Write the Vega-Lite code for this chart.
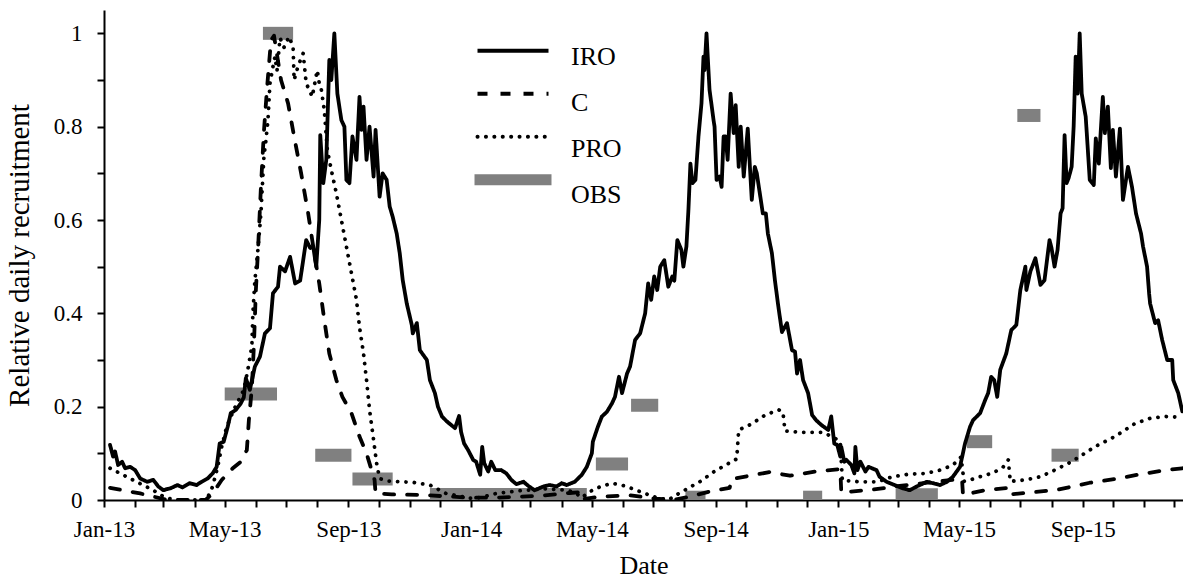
{
  "$schema": "https://vega.github.io/schema/vega-lite/v6.json",
  "width": 1079,
  "height": 490,
  "autosize": {"type": "none"},
  "padding": {"left": 104, "top": 10, "right": 0, "bottom": 78},
  "background": "white",
  "config": {
    "view": {"stroke": null},
    "font": "Liberation Serif",
    "axis": {
      "grid": false,
      "domainColor": "black",
      "domainWidth": 2,
      "tickColor": "black",
      "tickWidth": 2,
      "tickSize": 7,
      "labelColor": "black",
      "labelFont": "Liberation Serif",
      "labelFontSize": 23,
      "titleFont": "Liberation Serif",
      "titleColor": "black",
      "titleFontWeight": "normal",
      "labelOverlap": false,
      "labelBound": false,
      "zindex": 1
    }
  },
  "data": {
    "values": [
      {"series": "OBS", "start": "2013-05-01", "end": "2013-06-22", "value": 0.227},
      {"series": "OBS", "start": "2013-06-08", "end": "2013-07-08", "value": 1.0},
      {"series": "OBS", "start": "2013-07-30", "end": "2013-09-04", "value": 0.096},
      {"series": "OBS", "start": "2013-09-05", "end": "2013-10-15", "value": 0.045},
      {"series": "OBS", "start": "2013-11-21", "end": "2014-04-26", "value": 0.012},
      {"series": "OBS", "start": "2014-05-05", "end": "2014-06-06", "value": 0.077},
      {"series": "OBS", "start": "2014-06-09", "end": "2014-07-06", "value": 0.203},
      {"series": "OBS", "start": "2014-08-02", "end": "2014-08-22", "value": 0.006},
      {"series": "OBS", "start": "2014-11-27", "end": "2014-12-16", "value": 0.006},
      {"series": "OBS", "start": "2015-02-27", "end": "2015-04-10", "value": 0.011},
      {"series": "OBS", "start": "2015-05-09", "end": "2015-06-03", "value": 0.125},
      {"series": "OBS", "start": "2015-06-28", "end": "2015-07-21", "value": 0.824},
      {"series": "OBS", "start": "2015-08-01", "end": "2015-08-28", "value": 0.096},

      {"series": "IRO", "date": "2013-01-07", "value": 0.118},
      {"series": "IRO", "date": "2013-01-10", "value": 0.093},
      {"series": "IRO", "date": "2013-01-12", "value": 0.104},
      {"series": "IRO", "date": "2013-01-15", "value": 0.075},
      {"series": "IRO", "date": "2013-01-19", "value": 0.082},
      {"series": "IRO", "date": "2013-01-22", "value": 0.068},
      {"series": "IRO", "date": "2013-01-27", "value": 0.071},
      {"series": "IRO", "date": "2013-02-01", "value": 0.064},
      {"series": "IRO", "date": "2013-02-06", "value": 0.046},
      {"series": "IRO", "date": "2013-02-13", "value": 0.039},
      {"series": "IRO", "date": "2013-02-19", "value": 0.043},
      {"series": "IRO", "date": "2013-02-24", "value": 0.029},
      {"series": "IRO", "date": "2013-03-01", "value": 0.021},
      {"series": "IRO", "date": "2013-03-08", "value": 0.025},
      {"series": "IRO", "date": "2013-03-15", "value": 0.032},
      {"series": "IRO", "date": "2013-03-20", "value": 0.027},
      {"series": "IRO", "date": "2013-03-27", "value": 0.036},
      {"series": "IRO", "date": "2013-04-03", "value": 0.032},
      {"series": "IRO", "date": "2013-04-08", "value": 0.039},
      {"series": "IRO", "date": "2013-04-14", "value": 0.046},
      {"series": "IRO", "date": "2013-04-19", "value": 0.057},
      {"series": "IRO", "date": "2013-04-23", "value": 0.071},
      {"series": "IRO", "date": "2013-04-26", "value": 0.121},
      {"series": "IRO", "date": "2013-04-30", "value": 0.125},
      {"series": "IRO", "date": "2013-05-04", "value": 0.157},
      {"series": "IRO", "date": "2013-05-07", "value": 0.186},
      {"series": "IRO", "date": "2013-05-12", "value": 0.193},
      {"series": "IRO", "date": "2013-05-17", "value": 0.207},
      {"series": "IRO", "date": "2013-05-20", "value": 0.22},
      {"series": "IRO", "date": "2013-05-22", "value": 0.261},
      {"series": "IRO", "date": "2013-05-26", "value": 0.236},
      {"series": "IRO", "date": "2013-05-31", "value": 0.286},
      {"series": "IRO", "date": "2013-06-05", "value": 0.307},
      {"series": "IRO", "date": "2013-06-10", "value": 0.357},
      {"series": "IRO", "date": "2013-06-15", "value": 0.368},
      {"series": "IRO", "date": "2013-06-18", "value": 0.443},
      {"series": "IRO", "date": "2013-06-23", "value": 0.457},
      {"series": "IRO", "date": "2013-06-25", "value": 0.5},
      {"series": "IRO", "date": "2013-06-30", "value": 0.49},
      {"series": "IRO", "date": "2013-07-05", "value": 0.521},
      {"series": "IRO", "date": "2013-07-10", "value": 0.464},
      {"series": "IRO", "date": "2013-07-15", "value": 0.47},
      {"series": "IRO", "date": "2013-07-21", "value": 0.557},
      {"series": "IRO", "date": "2013-07-25", "value": 0.54},
      {"series": "IRO", "date": "2013-07-28", "value": 0.543},
      {"series": "IRO", "date": "2013-07-31", "value": 0.5},
      {"series": "IRO", "date": "2013-08-03", "value": 0.6},
      {"series": "IRO", "date": "2013-08-04", "value": 0.782},
      {"series": "IRO", "date": "2013-08-07", "value": 0.679},
      {"series": "IRO", "date": "2013-08-10", "value": 0.729},
      {"series": "IRO", "date": "2013-08-13", "value": 0.943},
      {"series": "IRO", "date": "2013-08-15", "value": 0.9},
      {"series": "IRO", "date": "2013-08-18", "value": 1.0},
      {"series": "IRO", "date": "2013-08-21", "value": 0.871},
      {"series": "IRO", "date": "2013-08-25", "value": 0.814},
      {"series": "IRO", "date": "2013-08-28", "value": 0.8},
      {"series": "IRO", "date": "2013-08-30", "value": 0.686},
      {"series": "IRO", "date": "2013-09-02", "value": 0.679},
      {"series": "IRO", "date": "2013-09-05", "value": 0.779},
      {"series": "IRO", "date": "2013-09-09", "value": 0.729},
      {"series": "IRO", "date": "2013-09-12", "value": 0.864},
      {"series": "IRO", "date": "2013-09-14", "value": 0.793},
      {"series": "IRO", "date": "2013-09-16", "value": 0.843},
      {"series": "IRO", "date": "2013-09-19", "value": 0.729},
      {"series": "IRO", "date": "2013-09-22", "value": 0.8},
      {"series": "IRO", "date": "2013-09-26", "value": 0.693},
      {"series": "IRO", "date": "2013-09-28", "value": 0.793},
      {"series": "IRO", "date": "2013-10-02", "value": 0.65},
      {"series": "IRO", "date": "2013-10-05", "value": 0.7},
      {"series": "IRO", "date": "2013-10-09", "value": 0.686},
      {"series": "IRO", "date": "2013-10-12", "value": 0.629},
      {"series": "IRO", "date": "2013-10-15", "value": 0.607},
      {"series": "IRO", "date": "2013-10-19", "value": 0.571},
      {"series": "IRO", "date": "2013-10-22", "value": 0.529},
      {"series": "IRO", "date": "2013-10-25", "value": 0.471},
      {"series": "IRO", "date": "2013-10-29", "value": 0.421},
      {"series": "IRO", "date": "2013-11-03", "value": 0.375},
      {"series": "IRO", "date": "2013-11-04", "value": 0.357},
      {"series": "IRO", "date": "2013-11-08", "value": 0.379},
      {"series": "IRO", "date": "2013-11-11", "value": 0.321},
      {"series": "IRO", "date": "2013-11-18", "value": 0.3},
      {"series": "IRO", "date": "2013-11-21", "value": 0.257},
      {"series": "IRO", "date": "2013-11-26", "value": 0.229},
      {"series": "IRO", "date": "2013-11-29", "value": 0.2},
      {"series": "IRO", "date": "2013-12-03", "value": 0.179},
      {"series": "IRO", "date": "2013-12-08", "value": 0.168},
      {"series": "IRO", "date": "2013-12-16", "value": 0.154},
      {"series": "IRO", "date": "2013-12-20", "value": 0.18},
      {"series": "IRO", "date": "2013-12-22", "value": 0.146},
      {"series": "IRO", "date": "2013-12-25", "value": 0.121},
      {"series": "IRO", "date": "2013-12-29", "value": 0.107},
      {"series": "IRO", "date": "2014-01-03", "value": 0.086},
      {"series": "IRO", "date": "2014-01-06", "value": 0.082},
      {"series": "IRO", "date": "2014-01-10", "value": 0.054},
      {"series": "IRO", "date": "2014-01-12", "value": 0.114},
      {"series": "IRO", "date": "2014-01-14", "value": 0.079},
      {"series": "IRO", "date": "2014-01-18", "value": 0.061},
      {"series": "IRO", "date": "2014-01-21", "value": 0.082},
      {"series": "IRO", "date": "2014-01-25", "value": 0.064},
      {"series": "IRO", "date": "2014-01-31", "value": 0.064},
      {"series": "IRO", "date": "2014-02-05", "value": 0.057},
      {"series": "IRO", "date": "2014-02-10", "value": 0.043},
      {"series": "IRO", "date": "2014-02-15", "value": 0.034},
      {"series": "IRO", "date": "2014-02-22", "value": 0.039},
      {"series": "IRO", "date": "2014-02-27", "value": 0.03},
      {"series": "IRO", "date": "2014-03-05", "value": 0.021},
      {"series": "IRO", "date": "2014-03-14", "value": 0.029},
      {"series": "IRO", "date": "2014-03-20", "value": 0.032},
      {"series": "IRO", "date": "2014-03-27", "value": 0.029},
      {"series": "IRO", "date": "2014-04-01", "value": 0.036},
      {"series": "IRO", "date": "2014-04-06", "value": 0.032},
      {"series": "IRO", "date": "2014-04-14", "value": 0.039},
      {"series": "IRO", "date": "2014-04-21", "value": 0.054},
      {"series": "IRO", "date": "2014-04-26", "value": 0.071},
      {"series": "IRO", "date": "2014-05-01", "value": 0.1},
      {"series": "IRO", "date": "2014-05-02", "value": 0.125},
      {"series": "IRO", "date": "2014-05-07", "value": 0.157},
      {"series": "IRO", "date": "2014-05-11", "value": 0.179},
      {"series": "IRO", "date": "2014-05-16", "value": 0.189},
      {"series": "IRO", "date": "2014-05-21", "value": 0.207},
      {"series": "IRO", "date": "2014-05-24", "value": 0.221},
      {"series": "IRO", "date": "2014-05-28", "value": 0.264},
      {"series": "IRO", "date": "2014-05-31", "value": 0.229},
      {"series": "IRO", "date": "2014-06-05", "value": 0.271},
      {"series": "IRO", "date": "2014-06-08", "value": 0.286},
      {"series": "IRO", "date": "2014-06-13", "value": 0.343},
      {"series": "IRO", "date": "2014-06-18", "value": 0.357},
      {"series": "IRO", "date": "2014-06-23", "value": 0.4},
      {"series": "IRO", "date": "2014-06-26", "value": 0.464},
      {"series": "IRO", "date": "2014-06-29", "value": 0.429},
      {"series": "IRO", "date": "2014-07-02", "value": 0.479},
      {"series": "IRO", "date": "2014-07-05", "value": 0.45},
      {"series": "IRO", "date": "2014-07-08", "value": 0.5},
      {"series": "IRO", "date": "2014-07-12", "value": 0.514},
      {"series": "IRO", "date": "2014-07-16", "value": 0.457},
      {"series": "IRO", "date": "2014-07-20", "value": 0.479},
      {"series": "IRO", "date": "2014-07-22", "value": 0.47},
      {"series": "IRO", "date": "2014-07-25", "value": 0.557},
      {"series": "IRO", "date": "2014-07-29", "value": 0.536},
      {"series": "IRO", "date": "2014-07-31", "value": 0.5},
      {"series": "IRO", "date": "2014-08-03", "value": 0.543},
      {"series": "IRO", "date": "2014-08-05", "value": 0.621},
      {"series": "IRO", "date": "2014-08-07", "value": 0.721},
      {"series": "IRO", "date": "2014-08-09", "value": 0.679},
      {"series": "IRO", "date": "2014-08-12", "value": 0.686},
      {"series": "IRO", "date": "2014-08-15", "value": 0.779},
      {"series": "IRO", "date": "2014-08-18", "value": 0.85},
      {"series": "IRO", "date": "2014-08-20", "value": 0.95},
      {"series": "IRO", "date": "2014-08-21", "value": 0.921},
      {"series": "IRO", "date": "2014-08-23", "value": 1.0},
      {"series": "IRO", "date": "2014-08-26", "value": 0.879},
      {"series": "IRO", "date": "2014-08-30", "value": 0.814},
      {"series": "IRO", "date": "2014-08-31", "value": 0.8},
      {"series": "IRO", "date": "2014-09-02", "value": 0.686},
      {"series": "IRO", "date": "2014-09-05", "value": 0.693},
      {"series": "IRO", "date": "2014-09-07", "value": 0.671},
      {"series": "IRO", "date": "2014-09-09", "value": 0.779},
      {"series": "IRO", "date": "2014-09-11", "value": 0.779},
      {"series": "IRO", "date": "2014-09-13", "value": 0.729},
      {"series": "IRO", "date": "2014-09-16", "value": 0.871},
      {"series": "IRO", "date": "2014-09-19", "value": 0.786},
      {"series": "IRO", "date": "2014-09-21", "value": 0.846},
      {"series": "IRO", "date": "2014-09-24", "value": 0.714},
      {"series": "IRO", "date": "2014-09-26", "value": 0.8},
      {"series": "IRO", "date": "2014-09-29", "value": 0.693},
      {"series": "IRO", "date": "2014-10-03", "value": 0.796},
      {"series": "IRO", "date": "2014-10-07", "value": 0.643},
      {"series": "IRO", "date": "2014-10-10", "value": 0.714},
      {"series": "IRO", "date": "2014-10-12", "value": 0.7},
      {"series": "IRO", "date": "2014-10-15", "value": 0.657},
      {"series": "IRO", "date": "2014-10-18", "value": 0.614},
      {"series": "IRO", "date": "2014-10-21", "value": 0.614},
      {"series": "IRO", "date": "2014-10-23", "value": 0.571},
      {"series": "IRO", "date": "2014-10-27", "value": 0.529},
      {"series": "IRO", "date": "2014-10-30", "value": 0.471},
      {"series": "IRO", "date": "2014-11-02", "value": 0.421},
      {"series": "IRO", "date": "2014-11-06", "value": 0.36},
      {"series": "IRO", "date": "2014-11-11", "value": 0.379},
      {"series": "IRO", "date": "2014-11-16", "value": 0.321},
      {"series": "IRO", "date": "2014-11-19", "value": 0.318},
      {"series": "IRO", "date": "2014-11-21", "value": 0.271},
      {"series": "IRO", "date": "2014-11-24", "value": 0.3},
      {"series": "IRO", "date": "2014-11-27", "value": 0.257},
      {"series": "IRO", "date": "2014-12-02", "value": 0.229},
      {"series": "IRO", "date": "2014-12-06", "value": 0.182},
      {"series": "IRO", "date": "2014-12-10", "value": 0.171},
      {"series": "IRO", "date": "2014-12-15", "value": 0.161},
      {"series": "IRO", "date": "2014-12-22", "value": 0.15},
      {"series": "IRO", "date": "2014-12-25", "value": 0.179},
      {"series": "IRO", "date": "2014-12-28", "value": 0.121},
      {"series": "IRO", "date": "2014-12-31", "value": 0.118},
      {"series": "IRO", "date": "2015-01-03", "value": 0.093},
      {"series": "IRO", "date": "2015-01-04", "value": 0.114},
      {"series": "IRO", "date": "2015-01-07", "value": 0.082},
      {"series": "IRO", "date": "2015-01-09", "value": 0.086},
      {"series": "IRO", "date": "2015-01-14", "value": 0.075},
      {"series": "IRO", "date": "2015-01-17", "value": 0.057},
      {"series": "IRO", "date": "2015-01-18", "value": 0.114},
      {"series": "IRO", "date": "2015-01-20", "value": 0.064},
      {"series": "IRO", "date": "2015-01-23", "value": 0.082},
      {"series": "IRO", "date": "2015-01-28", "value": 0.061},
      {"series": "IRO", "date": "2015-01-31", "value": 0.071},
      {"series": "IRO", "date": "2015-02-08", "value": 0.064},
      {"series": "IRO", "date": "2015-02-11", "value": 0.05},
      {"series": "IRO", "date": "2015-02-18", "value": 0.039},
      {"series": "IRO", "date": "2015-02-26", "value": 0.032},
      {"series": "IRO", "date": "2015-03-06", "value": 0.025},
      {"series": "IRO", "date": "2015-03-13", "value": 0.021},
      {"series": "IRO", "date": "2015-03-20", "value": 0.029},
      {"series": "IRO", "date": "2015-03-30", "value": 0.039},
      {"series": "IRO", "date": "2015-04-05", "value": 0.036},
      {"series": "IRO", "date": "2015-04-12", "value": 0.032},
      {"series": "IRO", "date": "2015-04-19", "value": 0.039},
      {"series": "IRO", "date": "2015-04-25", "value": 0.05},
      {"series": "IRO", "date": "2015-05-02", "value": 0.071},
      {"series": "IRO", "date": "2015-05-07", "value": 0.121},
      {"series": "IRO", "date": "2015-05-12", "value": 0.157},
      {"series": "IRO", "date": "2015-05-15", "value": 0.171},
      {"series": "IRO", "date": "2015-05-22", "value": 0.186},
      {"series": "IRO", "date": "2015-05-27", "value": 0.214},
      {"series": "IRO", "date": "2015-05-30", "value": 0.229},
      {"series": "IRO", "date": "2015-06-02", "value": 0.264},
      {"series": "IRO", "date": "2015-06-05", "value": 0.257},
      {"series": "IRO", "date": "2015-06-08", "value": 0.221},
      {"series": "IRO", "date": "2015-06-11", "value": 0.279},
      {"series": "IRO", "date": "2015-06-17", "value": 0.314},
      {"series": "IRO", "date": "2015-06-22", "value": 0.364},
      {"series": "IRO", "date": "2015-06-27", "value": 0.375},
      {"series": "IRO", "date": "2015-07-01", "value": 0.45},
      {"series": "IRO", "date": "2015-07-06", "value": 0.5},
      {"series": "IRO", "date": "2015-07-07", "value": 0.45},
      {"series": "IRO", "date": "2015-07-11", "value": 0.49},
      {"series": "IRO", "date": "2015-07-16", "value": 0.518},
      {"series": "IRO", "date": "2015-07-21", "value": 0.461},
      {"series": "IRO", "date": "2015-07-25", "value": 0.471},
      {"series": "IRO", "date": "2015-07-30", "value": 0.557},
      {"series": "IRO", "date": "2015-08-01", "value": 0.54},
      {"series": "IRO", "date": "2015-08-04", "value": 0.5},
      {"series": "IRO", "date": "2015-08-07", "value": 0.536},
      {"series": "IRO", "date": "2015-08-10", "value": 0.614},
      {"series": "IRO", "date": "2015-08-12", "value": 0.625},
      {"series": "IRO", "date": "2015-08-14", "value": 0.782},
      {"series": "IRO", "date": "2015-08-16", "value": 0.679},
      {"series": "IRO", "date": "2015-08-18", "value": 0.69},
      {"series": "IRO", "date": "2015-08-21", "value": 0.714},
      {"series": "IRO", "date": "2015-08-23", "value": 0.8},
      {"series": "IRO", "date": "2015-08-25", "value": 0.95},
      {"series": "IRO", "date": "2015-08-27", "value": 0.871},
      {"series": "IRO", "date": "2015-08-29", "value": 1.0},
      {"series": "IRO", "date": "2015-08-31", "value": 0.871},
      {"series": "IRO", "date": "2015-09-04", "value": 0.821},
      {"series": "IRO", "date": "2015-09-08", "value": 0.686},
      {"series": "IRO", "date": "2015-09-12", "value": 0.675},
      {"series": "IRO", "date": "2015-09-14", "value": 0.775},
      {"series": "IRO", "date": "2015-09-17", "value": 0.721},
      {"series": "IRO", "date": "2015-09-21", "value": 0.864},
      {"series": "IRO", "date": "2015-09-23", "value": 0.786},
      {"series": "IRO", "date": "2015-09-26", "value": 0.843},
      {"series": "IRO", "date": "2015-09-29", "value": 0.711},
      {"series": "IRO", "date": "2015-10-01", "value": 0.793},
      {"series": "IRO", "date": "2015-10-04", "value": 0.693},
      {"series": "IRO", "date": "2015-10-08", "value": 0.796},
      {"series": "IRO", "date": "2015-10-11", "value": 0.643},
      {"series": "IRO", "date": "2015-10-16", "value": 0.714},
      {"series": "IRO", "date": "2015-10-20", "value": 0.671},
      {"series": "IRO", "date": "2015-10-24", "value": 0.614},
      {"series": "IRO", "date": "2015-10-29", "value": 0.571},
      {"series": "IRO", "date": "2015-10-31", "value": 0.543},
      {"series": "IRO", "date": "2015-11-04", "value": 0.5},
      {"series": "IRO", "date": "2015-11-06", "value": 0.443},
      {"series": "IRO", "date": "2015-11-07", "value": 0.421},
      {"series": "IRO", "date": "2015-11-12", "value": 0.379},
      {"series": "IRO", "date": "2015-11-15", "value": 0.385},
      {"series": "IRO", "date": "2015-11-19", "value": 0.343},
      {"series": "IRO", "date": "2015-11-24", "value": 0.3},
      {"series": "IRO", "date": "2015-11-29", "value": 0.3},
      {"series": "IRO", "date": "2015-11-30", "value": 0.257},
      {"series": "IRO", "date": "2015-12-05", "value": 0.229},
      {"series": "IRO", "date": "2015-12-09", "value": 0.19},

      {"series": "C", "date": "2013-01-07", "value": 0.026},
      {"series": "C", "date": "2013-02-06", "value": 0.014},
      {"series": "C", "date": "2013-02-18", "value": 0.008},
      {"series": "C", "date": "2013-03-03", "value": 0.001},
      {"series": "C", "date": "2013-03-17", "value": 0},
      {"series": "C", "date": "2013-04-12", "value": 0},
      {"series": "C", "date": "2013-04-19", "value": 0.014},
      {"series": "C", "date": "2013-04-28", "value": 0.043},
      {"series": "C", "date": "2013-05-09", "value": 0.068},
      {"series": "C", "date": "2013-05-17", "value": 0.082},
      {"series": "C", "date": "2013-05-23", "value": 0.107},
      {"series": "C", "date": "2013-05-25", "value": 0.17},
      {"series": "C", "date": "2013-05-28", "value": 0.24},
      {"series": "C", "date": "2013-05-30", "value": 0.33},
      {"series": "C", "date": "2013-06-01", "value": 0.45},
      {"series": "C", "date": "2013-06-03", "value": 0.53},
      {"series": "C", "date": "2013-06-06", "value": 0.67},
      {"series": "C", "date": "2013-06-09", "value": 0.79},
      {"series": "C", "date": "2013-06-12", "value": 0.88},
      {"series": "C", "date": "2013-06-16", "value": 0.985},
      {"series": "C", "date": "2013-06-19", "value": 0.995},
      {"series": "C", "date": "2013-06-26", "value": 0.9},
      {"series": "C", "date": "2013-07-03", "value": 0.85},
      {"series": "C", "date": "2013-07-09", "value": 0.779},
      {"series": "C", "date": "2013-07-16", "value": 0.7},
      {"series": "C", "date": "2013-07-23", "value": 0.614},
      {"series": "C", "date": "2013-07-29", "value": 0.529},
      {"series": "C", "date": "2013-08-03", "value": 0.464},
      {"series": "C", "date": "2013-08-08", "value": 0.386},
      {"series": "C", "date": "2013-08-13", "value": 0.314},
      {"series": "C", "date": "2013-08-20", "value": 0.257},
      {"series": "C", "date": "2013-08-26", "value": 0.221},
      {"series": "C", "date": "2013-09-04", "value": 0.186},
      {"series": "C", "date": "2013-09-12", "value": 0.136},
      {"series": "C", "date": "2013-09-19", "value": 0.1},
      {"series": "C", "date": "2013-09-24", "value": 0.064},
      {"series": "C", "date": "2013-09-27", "value": 0.043},
      {"series": "C", "date": "2013-09-28", "value": 0.014},
      {"series": "C", "date": "2013-10-14", "value": 0.012},
      {"series": "C", "date": "2013-11-11", "value": 0.011},
      {"series": "C", "date": "2013-12-06", "value": 0.008},
      {"series": "C", "date": "2013-12-31", "value": 0.005},
      {"series": "C", "date": "2014-01-25", "value": 0.005},
      {"series": "C", "date": "2014-02-19", "value": 0.007},
      {"series": "C", "date": "2014-03-15", "value": 0.01},
      {"series": "C", "date": "2014-04-09", "value": 0.015},
      {"series": "C", "date": "2014-04-21", "value": 0.017},
      {"series": "C", "date": "2014-04-22", "value": 0.002},
      {"series": "C", "date": "2014-05-09", "value": 0.007},
      {"series": "C", "date": "2014-06-08", "value": 0.01},
      {"series": "C", "date": "2014-07-03", "value": 0.003},
      {"series": "C", "date": "2014-07-20", "value": 0},
      {"series": "C", "date": "2014-08-04", "value": 0.006},
      {"series": "C", "date": "2014-08-26", "value": 0.018},
      {"series": "C", "date": "2014-09-15", "value": 0.026},
      {"series": "C", "date": "2014-09-17", "value": 0.045},
      {"series": "C", "date": "2014-10-05", "value": 0.052},
      {"series": "C", "date": "2014-10-25", "value": 0.06},
      {"series": "C", "date": "2014-11-14", "value": 0.052},
      {"series": "C", "date": "2014-12-09", "value": 0.061},
      {"series": "C", "date": "2015-01-03", "value": 0.066},
      {"series": "C", "date": "2015-01-04", "value": 0.016},
      {"series": "C", "date": "2015-02-03", "value": 0.022},
      {"series": "C", "date": "2015-03-03", "value": 0.03},
      {"series": "C", "date": "2015-04-02", "value": 0.038},
      {"series": "C", "date": "2015-05-04", "value": 0.045},
      {"series": "C", "date": "2015-05-05", "value": 0.011},
      {"series": "C", "date": "2015-05-27", "value": 0.021},
      {"series": "C", "date": "2015-06-19", "value": 0.026},
      {"series": "C", "date": "2015-06-20", "value": 0.012},
      {"series": "C", "date": "2015-07-11", "value": 0.016},
      {"series": "C", "date": "2015-08-07", "value": 0.022},
      {"series": "C", "date": "2015-09-08", "value": 0.037},
      {"series": "C", "date": "2015-10-03", "value": 0.045},
      {"series": "C", "date": "2015-10-28", "value": 0.055},
      {"series": "C", "date": "2015-11-22", "value": 0.064},
      {"series": "C", "date": "2015-12-09", "value": 0.068},

      {"series": "PRO", "date": "2013-01-07", "value": 0.068},
      {"series": "PRO", "date": "2013-01-17", "value": 0.057},
      {"series": "PRO", "date": "2013-02-06", "value": 0.035},
      {"series": "PRO", "date": "2013-02-19", "value": 0.021},
      {"series": "PRO", "date": "2013-02-26", "value": 0.011},
      {"series": "PRO", "date": "2013-03-05", "value": 0.004},
      {"series": "PRO", "date": "2013-03-13", "value": 0},
      {"series": "PRO", "date": "2013-04-13", "value": 0},
      {"series": "PRO", "date": "2013-04-19", "value": 0.029},
      {"series": "PRO", "date": "2013-04-24", "value": 0.071},
      {"series": "PRO", "date": "2013-04-28", "value": 0.114},
      {"series": "PRO", "date": "2013-05-03", "value": 0.157},
      {"series": "PRO", "date": "2013-05-10", "value": 0.193},
      {"series": "PRO", "date": "2013-05-20", "value": 0.236},
      {"series": "PRO", "date": "2013-05-24", "value": 0.279},
      {"series": "PRO", "date": "2013-05-28", "value": 0.33},
      {"series": "PRO", "date": "2013-05-29", "value": 0.4},
      {"series": "PRO", "date": "2013-05-31", "value": 0.47},
      {"series": "PRO", "date": "2013-06-03", "value": 0.536},
      {"series": "PRO", "date": "2013-06-06", "value": 0.614},
      {"series": "PRO", "date": "2013-06-09", "value": 0.736},
      {"series": "PRO", "date": "2013-06-11", "value": 0.771},
      {"series": "PRO", "date": "2013-06-13", "value": 0.814},
      {"series": "PRO", "date": "2013-06-15", "value": 0.893},
      {"series": "PRO", "date": "2013-06-18", "value": 0.929},
      {"series": "PRO", "date": "2013-06-20", "value": 0.95},
      {"series": "PRO", "date": "2013-06-22", "value": 0.92},
      {"series": "PRO", "date": "2013-06-25", "value": 0.99},
      {"series": "PRO", "date": "2013-06-29", "value": 0.97},
      {"series": "PRO", "date": "2013-07-04", "value": 0.993},
      {"series": "PRO", "date": "2013-07-08", "value": 0.971},
      {"series": "PRO", "date": "2013-07-09", "value": 0.9},
      {"series": "PRO", "date": "2013-07-13", "value": 0.93},
      {"series": "PRO", "date": "2013-07-18", "value": 0.957},
      {"series": "PRO", "date": "2013-07-21", "value": 0.893},
      {"series": "PRO", "date": "2013-07-24", "value": 0.879},
      {"series": "PRO", "date": "2013-07-27", "value": 0.864},
      {"series": "PRO", "date": "2013-08-01", "value": 0.921},
      {"series": "PRO", "date": "2013-08-03", "value": 0.893},
      {"series": "PRO", "date": "2013-08-05", "value": 0.88},
      {"series": "PRO", "date": "2013-08-08", "value": 0.836},
      {"series": "PRO", "date": "2013-08-11", "value": 0.75},
      {"series": "PRO", "date": "2013-08-15", "value": 0.707},
      {"series": "PRO", "date": "2013-08-20", "value": 0.657},
      {"series": "PRO", "date": "2013-08-25", "value": 0.6},
      {"series": "PRO", "date": "2013-08-30", "value": 0.543},
      {"series": "PRO", "date": "2013-09-04", "value": 0.486},
      {"series": "PRO", "date": "2013-09-09", "value": 0.429},
      {"series": "PRO", "date": "2013-09-12", "value": 0.371},
      {"series": "PRO", "date": "2013-09-16", "value": 0.314},
      {"series": "PRO", "date": "2013-09-19", "value": 0.257},
      {"series": "PRO", "date": "2013-09-22", "value": 0.193},
      {"series": "PRO", "date": "2013-09-26", "value": 0.129},
      {"series": "PRO", "date": "2013-09-29", "value": 0.079},
      {"series": "PRO", "date": "2013-10-02", "value": 0.046},
      {"series": "PRO", "date": "2013-10-09", "value": 0.041},
      {"series": "PRO", "date": "2013-10-22", "value": 0.039},
      {"series": "PRO", "date": "2013-11-04", "value": 0.038},
      {"series": "PRO", "date": "2013-11-21", "value": 0.032},
      {"series": "PRO", "date": "2013-12-07", "value": 0.014},
      {"series": "PRO", "date": "2013-12-31", "value": 0.004},
      {"series": "PRO", "date": "2014-01-10", "value": 0.005},
      {"series": "PRO", "date": "2014-01-26", "value": 0.014},
      {"series": "PRO", "date": "2014-02-19", "value": 0.02},
      {"series": "PRO", "date": "2014-03-15", "value": 0.024},
      {"series": "PRO", "date": "2014-04-06", "value": 0.021},
      {"series": "PRO", "date": "2014-04-15", "value": 0.015},
      {"series": "PRO", "date": "2014-04-21", "value": 0.005},
      {"series": "PRO", "date": "2014-04-29", "value": 0.018},
      {"series": "PRO", "date": "2014-05-09", "value": 0.028},
      {"series": "PRO", "date": "2014-05-21", "value": 0.036},
      {"series": "PRO", "date": "2014-06-03", "value": 0.03},
      {"series": "PRO", "date": "2014-06-18", "value": 0.018},
      {"series": "PRO", "date": "2014-07-03", "value": 0.006},
      {"series": "PRO", "date": "2014-07-16", "value": 0},
      {"series": "PRO", "date": "2014-07-25", "value": 0.012},
      {"series": "PRO", "date": "2014-08-07", "value": 0.028},
      {"series": "PRO", "date": "2014-08-17", "value": 0.04},
      {"series": "PRO", "date": "2014-08-30", "value": 0.06},
      {"series": "PRO", "date": "2014-09-11", "value": 0.075},
      {"series": "PRO", "date": "2014-09-22", "value": 0.088},
      {"series": "PRO", "date": "2014-09-24", "value": 0.15},
      {"series": "PRO", "date": "2014-10-06", "value": 0.162},
      {"series": "PRO", "date": "2014-10-21", "value": 0.183},
      {"series": "PRO", "date": "2014-11-03", "value": 0.193},
      {"series": "PRO", "date": "2014-11-07", "value": 0.188},
      {"series": "PRO", "date": "2014-11-09", "value": 0.148},
      {"series": "PRO", "date": "2014-11-24", "value": 0.145},
      {"series": "PRO", "date": "2014-12-17", "value": 0.145},
      {"series": "PRO", "date": "2014-12-29", "value": 0.132},
      {"series": "PRO", "date": "2015-01-03", "value": 0.125},
      {"series": "PRO", "date": "2015-01-05", "value": 0.042},
      {"series": "PRO", "date": "2015-01-23", "value": 0.039},
      {"series": "PRO", "date": "2015-02-09", "value": 0.039},
      {"series": "PRO", "date": "2015-02-24", "value": 0.05},
      {"series": "PRO", "date": "2015-03-11", "value": 0.055},
      {"series": "PRO", "date": "2015-03-29", "value": 0.057},
      {"series": "PRO", "date": "2015-04-12", "value": 0.064},
      {"series": "PRO", "date": "2015-04-25", "value": 0.075},
      {"series": "PRO", "date": "2015-05-03", "value": 0.092},
      {"series": "PRO", "date": "2015-05-06", "value": 0.04},
      {"series": "PRO", "date": "2015-05-12", "value": 0.043},
      {"series": "PRO", "date": "2015-05-22", "value": 0.05},
      {"series": "PRO", "date": "2015-06-04", "value": 0.058},
      {"series": "PRO", "date": "2015-06-14", "value": 0.071},
      {"series": "PRO", "date": "2015-06-19", "value": 0.086},
      {"series": "PRO", "date": "2015-06-21", "value": 0.04},
      {"series": "PRO", "date": "2015-07-06", "value": 0.043},
      {"series": "PRO", "date": "2015-07-21", "value": 0.05},
      {"series": "PRO", "date": "2015-08-04", "value": 0.064},
      {"series": "PRO", "date": "2015-08-19", "value": 0.08},
      {"series": "PRO", "date": "2015-08-29", "value": 0.093},
      {"series": "PRO", "date": "2015-09-13", "value": 0.114},
      {"series": "PRO", "date": "2015-10-03", "value": 0.136},
      {"series": "PRO", "date": "2015-10-13", "value": 0.15},
      {"series": "PRO", "date": "2015-10-23", "value": 0.164},
      {"series": "PRO", "date": "2015-11-07", "value": 0.175},
      {"series": "PRO", "date": "2015-11-22", "value": 0.179},
      {"series": "PRO", "date": "2015-12-09", "value": 0.177}
    ]
  },
  "layer": [
    {
      "transform": [{"filter": "datum.series === 'OBS'"}],
      "mark": {"type": "rule", "color": "#808080", "strokeWidth": 13, "strokeCap": "butt", "clip": true},
      "encoding": {
        "x": {
          "field": "start",
          "type": "temporal",
          "scale": {"type": "utc", "nice": false, "domain": [{"year": 2013, "month": 1, "date": 1, "utc": true}, {"year": 2015, "month": 12, "date": 9, "hours": 17, "utc": true}]},
          "axis": {
            "title": "Date",
            "titleFontSize": 26,
            "titleBaseline": "alphabetic",
            "titleY": 73,
            "labelFontSize": 23,
            "labelBaseline": "alphabetic",
            "labelPadding": 29,
            "labelFlush": false,
            "tickCount": {"interval": "month", "step": 1},
            "labelExpr": "utcmonth(datum.value) % 4 === 0 ? utcFormat(datum.value, '%b-%y') : ''"
          }
        },
        "x2": {"field": "end"},
        "y": {
          "field": "value",
          "type": "quantitative",
          "scale": {"domain": [0, 1.05], "nice": false},
          "axis": {
            "title": "Relative daily recruitment",
            "titleFontSize": 29,
            "titleBaseline": "alphabetic",
            "titleX": -76,
            "labelFontSize": 23,
            "values": [0, 0.1, 0.2, 0.3, 0.4, 0.5, 0.6, 0.7, 0.8, 0.9, 1],
            "labelExpr": "round(datum.value * 10) % 2 === 0 ? format(datum.value, '~g') : ''",
            "labelPadding": 15
          }
        }
      }
    },
    {
      "transform": [{"filter": "datum.series !== 'OBS'"}],
      "mark": {"type": "line", "color": "black", "strokeWidth": 3.8, "strokeCap": "round", "strokeJoin": "round", "clip": true},
      "encoding": {
        "x": {
          "field": "date",
          "type": "temporal",
          "scale": {"type": "utc", "nice": false, "domain": [{"year": 2013, "month": 1, "date": 1, "utc": true}, {"year": 2015, "month": 12, "date": 9, "hours": 17, "utc": true}]},
          "axis": {
            "title": "Date",
            "titleFontSize": 26,
            "titleBaseline": "alphabetic",
            "titleY": 73,
            "labelFontSize": 23,
            "labelBaseline": "alphabetic",
            "labelPadding": 29,
            "labelFlush": false,
            "tickCount": {"interval": "month", "step": 1},
            "labelExpr": "utcmonth(datum.value) % 4 === 0 ? utcFormat(datum.value, '%b-%y') : ''"
          }
        },
        "y": {
          "field": "value",
          "type": "quantitative",
          "scale": {"domain": [0, 1.05], "nice": false},
          "axis": {
            "title": "Relative daily recruitment",
            "titleFontSize": 29,
            "titleBaseline": "alphabetic",
            "titleX": -76,
            "labelFontSize": 23,
            "values": [0, 0.1, 0.2, 0.3, 0.4, 0.5, 0.6, 0.7, 0.8, 0.9, 1],
            "labelExpr": "round(datum.value * 10) % 2 === 0 ? format(datum.value, '~g') : ''",
            "labelPadding": 15
          }
        },
        "strokeDash": {
          "field": "series",
          "type": "nominal",
          "scale": {"domain": ["IRO", "C", "PRO", "OBS"], "range": [[1, 0], [10, 13], [0.1, 8.3], [1, 0]]},
          "legend": {
            "title": null,
            "orient": "none",
            "legendX": 369,
            "legendY": 26.7,
            "padding": 0,
            "symbolType": "stroke",
            "symbolSize": 5041,
            "symbolStrokeWidth": 4,
            "symbolStrokeColor": "black",
            "labelFont": "Liberation Serif",
            "labelFontSize": 26,
            "labelColor": "black",
            "labelOffset": 44,
            "rowPadding": 0,
            "clipHeight": 43,
            "encode": {
              "symbols": {
                "update": {
                  "x": {"value": 40},
                  "y": {"value": 14},
                  "size": {"signal": "datum.value === 'OBS' ? 5929 : 5041"},
                  "strokeWidth": {"signal": "datum.value === 'OBS' ? 11 : 4"},
                  "stroke": {"signal": "datum.value === 'OBS' ? '#808080' : 'black'"},
                  "strokeDash": {"signal": "datum.value === 'C' ? [13, 15] : datum.value === 'PRO' ? [0.1, 8.6] : [1, 0]"},
                  "strokeCap": {"signal": "datum.value === 'PRO' ? 'round' : 'butt'"}
                }
              },
              "labels": {
                "update": {
                  "x": {"value": 98},
                  "y": {"value": 14},
                  "dy": {"signal": "6.3 + 3.1 * datum.index"}
                }
              }
            }
          }
        }
      }
    }
  ]
}
